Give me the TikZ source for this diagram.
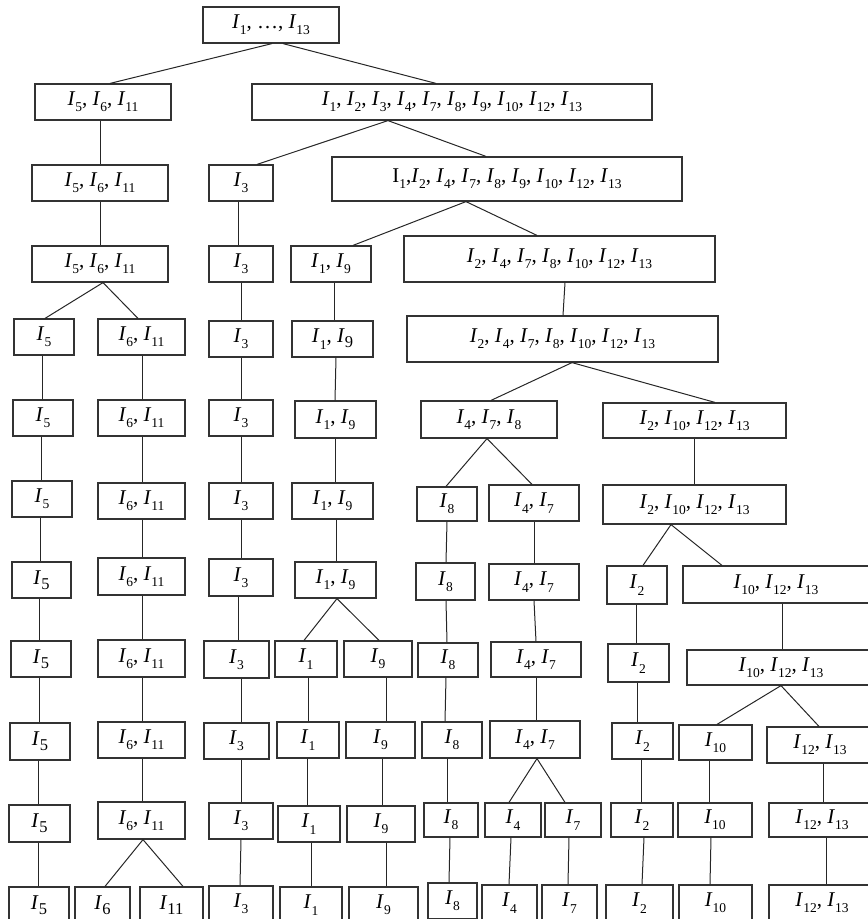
\documentclass[tikz,border=0pt]{standalone}
\usepackage{fontspec}
\setmainfont{Liberation Serif}
\newcommand\sbs[1]{\raisebox{-0.3em}{\fontsize{13.5}{13.5}\selectfont #1}}
\newcommand\sbb[1]{\raisebox{-0.22em}{\fontsize{16.5}{16.5}\selectfont #1}}
\newcommand\Ix[1]{\textit{I}\sbs{#1}}
\newcommand\Iy[1]{\textit{I}\sbb{#1}}
\newcommand\bx[6]{\node[box, minimum width={(#4-#2)*1pt}, minimum height={(#5-#3)*1pt}] (#1) at ({(#2+#4)/2},{(#3+#5)/2}) {#6};}
\newcommand\cn[4]{\draw[link] (#2,0 |- #1.south) -- (#4,0 |- #3.north);}
\tikzset{
  box/.style={draw=black!80, line width=1.2pt, inner sep=0pt, font=\fontsize{21}{24}\selectfont},
  link/.style={draw=black!85, line width=1pt}
}
\begin{document}
\begin{tikzpicture}[x=1pt,y=-1pt]
\useasboundingbox (0,0) rectangle (868,919);
\clip (0,0) rectangle (868,919);
% row 0
\bx{root}{203}{7}{339}{43}{\Ix{1}, …, \Ix{13}}
% row 1
\bx{a1}{35}{84}{171}{120}{\Ix{5}, \Ix{6}, \Ix{11}}
\bx{b1}{252}{84}{652}{120}{\Ix{1}, \Ix{2}, \Ix{3}, \Ix{4}, \Ix{7}, \Ix{8}, \Ix{9}, \Ix{10}, \Ix{12}, \Ix{13}}
% row 2
\bx{a2}{32}{165}{168}{201}{\Ix{5}, \Ix{6}, \Ix{11}}
\bx{c2}{209}{165}{273}{201}{\Ix{3}}
\bx{d2}{332}{157}{682}{201}{I\sbs{1},\Ix{2}, \Ix{4}, \Ix{7}, \Ix{8}, \Ix{9}, \Ix{10}, \Ix{12}, \Ix{13}}
% row 3
\bx{a3}{32}{246}{168}{282}{\Ix{5}, \Ix{6}, \Ix{11}}
\bx{c3}{209}{246}{273}{282}{\Ix{3}}
\bx{e3}{291}{246}{371}{282}{\Ix{1}, \Ix{9}}
\bx{f3}{404}{236}{715}{282}{\Ix{2}, \Ix{4}, \Ix{7}, \Ix{8}, \Ix{10}, \Ix{12}, \Ix{13}}
% row 4
\bx{g4}{14}{319}{74}{355}{\Ix{5}}
\bx{h4}{98}{319}{185}{355}{\Ix{6}, \Ix{11}}
\bx{c4}{209}{321}{273}{357}{\Ix{3}}
\bx{e4}{292}{321}{373}{357}{\Ix{1}, \Iy{9}}
\bx{f4}{407}{316}{718}{362}{\Ix{2}, \Ix{4}, \Ix{7}, \Ix{8}, \Ix{10}, \Ix{12}, \Ix{13}}
% row 5
\bx{g5}{13}{400}{73}{436}{\Ix{5}}
\bx{h5}{98}{400}{185}{436}{\Ix{6}, \Ix{11}}
\bx{c5}{209}{400}{273}{436}{\Ix{3}}
\bx{e5}{295}{401}{376}{438}{\Ix{1}, \Ix{9}}
\bx{i5}{421}{401}{557}{438}{\Ix{4}, \Ix{7}, \Ix{8}}
\bx{j5}{603}{403}{786}{438}{\Ix{2}, \Ix{10}, \Ix{12}, \Ix{13}}
% row 6
\bx{g6}{12}{481}{72}{517}{\Ix{5}}
\bx{h6}{98}{483}{185}{519}{\Ix{6}, \Ix{11}}
\bx{c6}{209}{483}{273}{519}{\Ix{3}}
\bx{e6}{292}{483}{373}{519}{\Ix{1}, \Ix{9}}
\bx{k6}{417}{487}{477}{521}{\Ix{8}}
\bx{l6}{489}{485}{579}{521}{\Ix{4}, \Ix{7}}
\bx{j6}{603}{485}{786}{524}{\Ix{2}, \Ix{10}, \Ix{12}, \Ix{13}}
% row 7
\bx{g7}{12}{562}{71}{598}{\Iy{5}}
\bx{h7}{98}{558}{185}{595}{\Ix{6}, \Ix{11}}
\bx{c7}{209}{559}{273}{596}{\Ix{3}}
\bx{e7}{295}{562}{376}{598}{\Ix{1}, \Ix{9}}
\bx{k7}{416}{563}{475}{600}{\Ix{8}}
\bx{l7}{489}{564}{579}{600}{\Ix{4}, \Ix{7}}
\bx{m7}{607}{566}{667}{604}{\Ix{2}}
\bx{n7}{683}{566}{869}{603}{\Ix{10}, \Ix{12}, \Ix{13}}
% row 8
\bx{g8}{11}{641}{71}{677}{\Iy{5}}
\bx{h8}{98}{640}{185}{677}{\Ix{6}, \Ix{11}}
\bx{c8}{204}{641}{269}{678}{\Ix{3}}
\bx{o8}{275}{641}{337}{677}{\Ix{1}}
\bx{p8}{344}{641}{412}{677}{\Ix{9}}
\bx{k8}{418}{643}{478}{677}{\Ix{8}}
\bx{l8}{491}{642}{581}{677}{\Ix{4}, \Ix{7}}
\bx{m8}{608}{644}{669}{682}{\Ix{2}}
\bx{n8}{687}{650}{875}{685}{\Ix{10}, \Ix{12}, \Ix{13}}
% row 9
\bx{g9}{10}{723}{70}{760}{\Iy{5}}
\bx{h9}{98}{722}{185}{758}{\Ix{6}, \Ix{11}}
\bx{c9}{204}{723}{269}{759}{\Ix{3}}
\bx{o9}{277}{722}{339}{758}{\Ix{1}}
\bx{p9}{346}{722}{415}{758}{\Ix{9}}
\bx{k9}{422}{722}{482}{758}{\Ix{8}}
\bx{l9}{490}{721}{580}{758}{\Ix{4}, \Ix{7}}
\bx{m9}{612}{723}{673}{759}{\Ix{2}}
\bx{q9}{679}{725}{752}{760}{\Ix{10}}
\bx{r9}{767}{727}{873}{763}{\Ix{12}, \Ix{13}}
% row 10
\bx{g10}{9}{805}{70}{842}{\Iy{5}}
\bx{h10}{98}{802}{185}{839}{\Ix{6}, \Ix{11}}
\bx{c10}{209}{803}{273}{839}{\Ix{3}}
\bx{o10}{278}{806}{340}{842}{\Ix{1}}
\bx{p10}{347}{806}{415}{842}{\Ix{9}}
\bx{k10}{424}{803}{478}{837}{\Ix{8}}
\bx{s10}{485}{803}{541}{837}{\Ix{4}}
\bx{t10}{545}{803}{601}{837}{\Ix{7}}
\bx{m10}{611}{803}{673}{837}{\Ix{2}}
\bx{q10}{678}{803}{752}{837}{\Ix{10}}
\bx{r10}{769}{803}{875}{837}{\Ix{12}, \Ix{13}}
% row 11
\bx{g11}{9}{887}{69}{923}{\Iy{5}}
\bx{u11}{75}{887}{130}{923}{\Iy{6}}
\bx{v11}{140}{887}{203}{923}{\Iy{11}}
\bx{c11}{209}{886}{273}{922}{\Ix{3}}
\bx{o11}{280}{887}{342}{923}{\Ix{1}}
\bx{p11}{349}{887}{418}{923}{\Ix{9}}
\bx{k11}{428}{883}{477}{919}{\Ix{8}}
\bx{s11}{482}{885}{537}{921}{\Ix{4}}
\bx{t11}{542}{885}{597}{921}{\Ix{7}}
\bx{m11}{606}{885}{673}{921}{\Ix{2}}
\bx{q11}{679}{885}{752}{921}{\Ix{10}}
\bx{r11}{769}{885}{875}{921}{\Ix{12}, \Ix{13}}
% connectors
\cn{root}{272}{a1}{110}
\cn{root}{283}{b1}{436}
\cn{a1}{100}{a2}{100}
\cn{a2}{100}{a3}{100}
\cn{a3}{103}{g4}{45}
\cn{a3}{103}{h4}{138}
\cn{b1}{388}{c2}{257}
\cn{b1}{388}{d2}{486}
\cn{c2}{238}{c3}{238}
\cn{d2}{466}{e3}{353}
\cn{d2}{466}{f3}{537}
\cn{c3}{241}{c4}{241}
\cn{e3}{334}{e4}{334}
\cn{f3}{565}{f4}{563}
\cn{g4}{42}{g5}{42}
\cn{g5}{41}{g6}{41}
\cn{g6}{40}{g7}{40}
\cn{h4}{142}{h5}{142}
\cn{h5}{142}{h6}{142}
\cn{h6}{142}{h7}{142}
\cn{c4}{241}{c5}{241}
\cn{c5}{241}{c6}{241}
\cn{c6}{241}{c7}{241}
\cn{e4}{336}{e5}{335}
\cn{e5}{335}{e6}{335}
\cn{e6}{336}{e7}{336}
\cn{f4}{572}{i5}{491}
\cn{f4}{572}{j5}{715}
\cn{i5}{487}{k6}{446}
\cn{i5}{487}{l6}{532}
\cn{j5}{694}{j6}{694}
\cn{j6}{671}{m7}{643}
\cn{j6}{671}{n7}{722}
\cn{k6}{447}{k7}{446}
\cn{l6}{534}{l7}{534}
\cn{g7}{39}{g8}{39}
\cn{h7}{142}{h8}{142}
\cn{c7}{238}{c8}{238}
\cn{e7}{337}{o8}{304}
\cn{e7}{337}{p8}{379}
\cn{k7}{446}{k8}{447}
\cn{l7}{534}{l8}{536}
\cn{m7}{636}{m8}{636}
\cn{n7}{782}{n8}{782}
\cn{g8}{39}{g9}{39}
\cn{h8}{142}{h9}{142}
\cn{c8}{241}{c9}{241}
\cn{o8}{308}{o9}{308}
\cn{p8}{386}{p9}{386}
\cn{k8}{446}{k9}{445}
\cn{l8}{536}{l9}{536}
\cn{m8}{637}{m9}{637}
\cn{n8}{781}{q9}{717}
\cn{n8}{781}{r9}{819}
\cn{g9}{38}{g10}{38}
\cn{h9}{142}{h10}{142}
\cn{c9}{241}{c10}{241}
\cn{o9}{307}{o10}{307}
\cn{p9}{382}{p10}{382}
\cn{k9}{447}{k10}{447}
\cn{l9}{537}{s10}{509}
\cn{l9}{537}{t10}{565}
\cn{m9}{641}{m10}{641}
\cn{q9}{709}{q10}{709}
\cn{r9}{823}{r10}{823}
\cn{g10}{38}{g11}{38}
\cn{h10}{143}{u11}{105}
\cn{h10}{143}{v11}{183}
\cn{c10}{241}{c11}{240}
\cn{o10}{311}{o11}{311}
\cn{p10}{386}{p11}{386}
\cn{k10}{450}{k11}{449}
\cn{s10}{511}{s11}{509}
\cn{t10}{569}{t11}{568}
\cn{m10}{644}{m11}{642}
\cn{q10}{711}{q11}{710}
\cn{r10}{826}{r11}{826}
\end{tikzpicture}
\end{document}
